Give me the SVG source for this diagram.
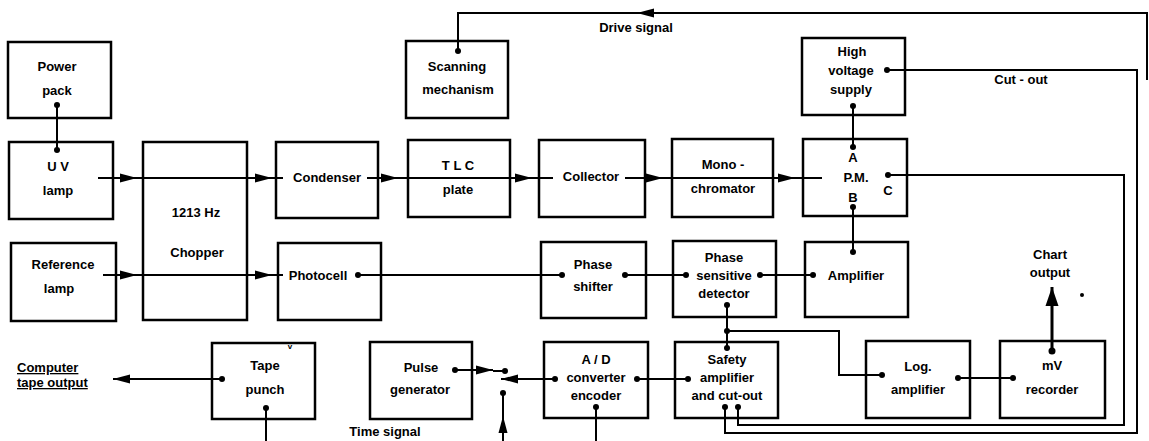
<svg xmlns="http://www.w3.org/2000/svg" width="1149" height="441" viewBox="0 0 1149 441">
<style>
.box{fill:#fff;stroke:#000;stroke-width:2.5}
.t{font-family:"Liberation Sans",Arial,sans-serif;font-weight:bold;font-size:13px;fill:#000;text-anchor:middle}
.ln{fill:none;stroke:#000;stroke-width:2;stroke-linejoin:miter}
.thick{fill:none;stroke:#000;stroke-width:3}
.dot{fill:#000}
.ul{text-decoration:underline}
</style>
<defs>
<marker id="arr" markerUnits="userSpaceOnUse" markerWidth="18" markerHeight="10" refX="17" refY="5" orient="auto">
<path d="M0,0.5 L17,5 L0,9.5 Z" fill="#000"/>
</marker>
<marker id="arrBig" markerUnits="userSpaceOnUse" markerWidth="20" markerHeight="14" refX="19" refY="7" orient="auto">
<path d="M0,0.5 L19,7 L0,13.5 Z" fill="#000"/>
</marker>
</defs>

<g id="power-pack"><rect class="box" x="8" y="42" width="103" height="76"/><text class="t" x="57" y="71">Power</text><text class="t" x="57" y="95">pack</text></g>
<g id="uv-lamp"><rect class="box" x="9" y="142" width="104" height="77"/><text class="t" x="58" y="171">U V</text><text class="t" x="58" y="195">lamp</text></g>
<g id="chopper"><rect class="box" x="143" y="142" width="104" height="178"/><text class="t" x="196" y="217">1213 Hz</text><text class="t" x="197" y="257">Chopper</text></g>
<g id="condenser"><rect class="box" x="276" y="142" width="102" height="76"/><text class="t" x="327" y="182">Condenser</text></g>
<g id="reference-lamp"><rect class="box" x="11" y="243" width="105" height="78"/><text class="t" x="63" y="269">Reference</text><text class="t" x="59" y="293">lamp</text></g>
<g id="photocell"><rect class="box" x="278" y="243" width="103" height="77"/><text class="t" x="318" y="280">Photocell</text></g>
<g id="scanning-mechanism"><rect class="box" x="406" y="41" width="102" height="77"/><text class="t" x="457" y="71">Scanning</text><text class="t" x="458" y="94">mechanism</text></g>
<g id="tlc-plate"><rect class="box" x="408" y="140" width="102" height="77"/><text class="t" x="458" y="170">T L C</text><text class="t" x="458" y="194">plate</text></g>
<g id="collector"><rect class="box" x="539" y="140" width="106" height="77"/><text class="t" x="591" y="181">Collector</text></g>
<g id="monochromator"><rect class="box" x="672" y="139" width="101" height="78"/><text class="t" x="723" y="169">Mono -</text><text class="t" x="723" y="193">chromator</text></g>
<g id="high-voltage-supply"><rect class="box" x="802" y="38" width="103" height="77"/><text class="t" x="852" y="56">High</text><text class="t" x="851" y="75">voltage</text><text class="t" x="851" y="94">supply</text></g>
<g id="pm"><rect class="box" x="803" y="139" width="104" height="77"/><text class="t" x="853" y="162">A</text><text class="t" x="856" y="182">P.M.</text><text class="t" x="853" y="202">B</text><text class="t" x="888" y="195">C</text></g>
<g id="phase-shifter"><rect class="box" x="541" y="242" width="105" height="76"/><text class="t" x="593" y="269">Phase</text><text class="t" x="593" y="291">shifter</text></g>
<g id="phase-sensitive-detector"><rect class="box" x="673" y="241" width="103" height="76"/><text class="t" x="724" y="262">Phase</text><text class="t" x="724" y="280">sensitive</text><text class="t" x="724" y="298">detector</text></g>
<g id="amplifier"><rect class="box" x="805" y="242" width="103" height="75"/><text class="t" x="856" y="280">Amplifier</text></g>
<g id="tape-punch"><rect class="box" x="212" y="343" width="103" height="76"/><text class="t" x="265" y="370">Tape</text><text class="t" x="265" y="394">punch</text><text class="t" x="290" y="349" style="font-size:8px">v</text></g>
<g id="pulse-generator"><rect class="box" x="370" y="342" width="102" height="77"/><text class="t" x="421" y="372">Pulse</text><text class="t" x="420" y="394">generator</text></g>
<g id="ad-converter"><rect class="box" x="544" y="342" width="104" height="76"/><text class="t" x="596" y="364">A / D</text><text class="t" x="596" y="382">converter</text><text class="t" x="596" y="400">encoder</text></g>
<g id="safety-amplifier"><rect class="box" x="675" y="342" width="103" height="76"/><text class="t" x="727" y="364">Safety</text><text class="t" x="727" y="382">amplifier</text><text class="t" x="727" y="400">and cut-out</text></g>
<g id="log-amplifier"><rect class="box" x="866" y="341" width="104" height="77"/><text class="t" x="918" y="371">Log.</text><text class="t" x="918" y="394">amplifier</text></g>
<g id="mv-recorder"><rect class="box" x="1000" y="341" width="105" height="77"/><text class="t" x="1052" y="370">mV</text><text class="t" x="1052" y="394">recorder</text></g>

<g id="labels">
<text class="t" x="636" y="32">Drive signal</text>
<text class="t" x="1021" y="84">Cut - out</text>
<text class="t" x="1050" y="259">Chart</text>
<text class="t" x="1050" y="277">output</text>
<text class="t" x="385" y="436">Time signal</text>
<text class="t ul" x="17" y="372" style="text-anchor:start">Computer</text>
<text class="t ul" x="17" y="387" style="text-anchor:start">tape output</text>
</g>

<g id="connectors">
<path class="ln" d="M57,105 V150"/>
<path class="ln" d="M98,178 H137" marker-end="url(#arr)"/>
<path class="ln" d="M137,178 H272" marker-end="url(#arr)"/>
<path class="ln" d="M272,178 H283"/>
<path class="ln" d="M367,178 H398" marker-end="url(#arr)"/>
<path class="ln" d="M398,178 H532" marker-end="url(#arr)"/>
<path class="ln" d="M532,178 H553"/>
<path class="ln" d="M625,178 H663" marker-end="url(#arr)"/>
<path class="ln" d="M663,178 H795" marker-end="url(#arr)"/>
<path class="ln" d="M795,178 H822"/>
<path class="ln" d="M853,106 V147"/>
<path class="ln" d="M853,207 V252"/>
<path class="ln" d="M888,175 H1124 V425 H738 V407"/>
<path class="ln" d="M887,70 H1137 V433 H725 V407"/>
<path class="ln" d="M1147,80 V13 H637" marker-end="url(#arr)"/>
<path class="ln" d="M637,13 H458 V51"/>
<path class="ln" d="M103,275 H137" marker-end="url(#arr)"/>
<path class="ln" d="M137,275 H272" marker-end="url(#arr)"/>
<path class="ln" d="M272,275 H283"/>
<path class="ln" d="M358,275 H562"/>
<path class="ln" d="M625,275 H686"/>
<path class="ln" d="M760,275 H813"/>
<path class="ln" d="M727,305 V348"/>
<path class="ln" d="M727,331 H839 V375 H882"/>
<path class="ln" d="M958,378 H1013"/>
<path class="thick" d="M1052,351 V287" marker-end="url(#arrBig)"/>
<path class="ln" d="M688,379 H637"/>
<path class="ln" d="M555,379 H501" marker-end="url(#arr)"/>
<path class="ln" d="M455,370 H493" marker-end="url(#arr)"/>
<path class="ln" d="M493,371 H505"/>
<path class="ln" d="M503,441 V416" marker-end="url(#arr)"/>
<path class="ln" d="M503,416 V393"/>
<path class="ln" d="M222,379 H113" marker-end="url(#arr)"/>
<path class="ln" d="M266,408 V441"/>
<path class="ln" d="M596,407 V441"/>
<circle class="dot" cx="57" cy="105" r="3"/>
<circle class="dot" cx="57" cy="150" r="3"/>
<circle class="dot" cx="853" cy="106" r="3"/>
<circle class="dot" cx="853" cy="147" r="3"/>
<circle class="dot" cx="853" cy="207" r="3"/>
<circle class="dot" cx="853" cy="252" r="3"/>
<circle class="dot" cx="888" cy="175" r="3"/>
<circle class="dot" cx="887" cy="70" r="3"/>
<circle class="dot" cx="738" cy="407" r="3"/>
<circle class="dot" cx="725" cy="407" r="3"/>
<circle class="dot" cx="458" cy="51" r="3"/>
<circle class="dot" cx="358" cy="275" r="3"/>
<circle class="dot" cx="562" cy="275" r="3"/>
<circle class="dot" cx="625" cy="275" r="3"/>
<circle class="dot" cx="686" cy="275" r="3"/>
<circle class="dot" cx="760" cy="275" r="3"/>
<circle class="dot" cx="813" cy="275" r="3"/>
<circle class="dot" cx="727" cy="305" r="3"/>
<circle class="dot" cx="727" cy="331" r="3"/>
<circle class="dot" cx="727" cy="348" r="3"/>
<circle class="dot" cx="882" cy="375" r="3"/>
<circle class="dot" cx="958" cy="378" r="3"/>
<circle class="dot" cx="1013" cy="378" r="3"/>
<circle class="dot" cx="1052" cy="351" r="3.5"/>
<circle class="dot" cx="688" cy="379" r="3"/>
<circle class="dot" cx="637" cy="379" r="3"/>
<circle class="dot" cx="555" cy="379" r="3"/>
<circle class="dot" cx="455" cy="370" r="3"/>
<circle class="dot" cx="505" cy="371" r="3"/>
<circle class="dot" cx="503" cy="393" r="3"/>
<circle class="dot" cx="222" cy="379" r="3"/>
<circle class="dot" cx="266" cy="408" r="3"/>
<circle class="dot" cx="596" cy="407" r="3"/>
<circle class="dot" cx="1082" cy="295" r="2"/>
</g>
</svg>
